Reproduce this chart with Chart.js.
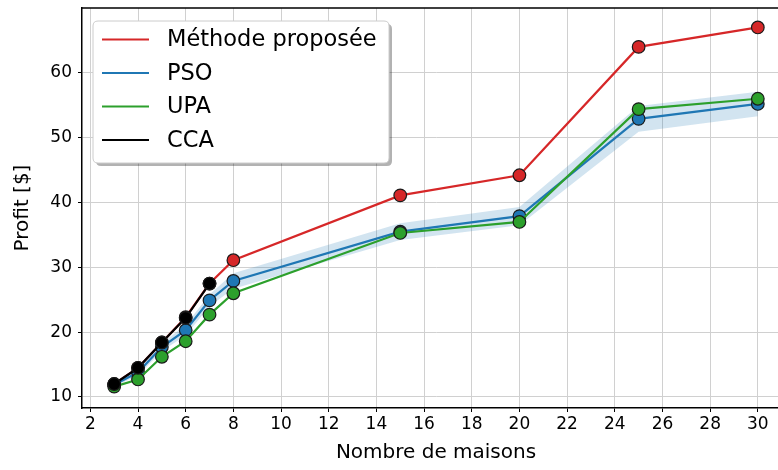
<!DOCTYPE html>
<html>
<head>
<meta charset="utf-8">
<script src="https://cdn.jsdelivr.net/npm/chart.js@4.4.1/dist/chart.umd.min.js"></script>
<style>
  html, body { margin: 0; padding: 0; background: #fff; overflow: hidden; }
  #wrap { width: 800px; height: 470px; position: relative; }
</style>
</head>
<body>
<div id="wrap"><canvas id="profitChart"></canvas></div>
<script>
// donnees
var houses = [3, 4, 5, 6, 7, 8, 15, 20, 25, 30];
var ccaHouses = [3, 4, 5, 6, 7];
var proposed = [12.0, 14.5, 18.4, 22.3, 27.5, 31.1, 41.1, 44.2, 64.0, 67.0];
var pso = [11.9, 13.8, 17.7, 20.3, 24.9, 27.9, 35.5, 37.9, 52.9, 55.2];
var psoStd = [0.3, 0.5, 0.6, 0.8, 0.9, 1.2, 1.3, 1.4, 2.0, 1.9];
var upa = [11.6, 12.7, 16.2, 18.6, 22.7, 26.0, 35.3, 37.0, 54.4, 56.0];
var cca = [12.0, 14.5, 18.4, 22.2, 27.5];
var xTicks = [2, 4, 6, 8, 10, 12, 14, 16, 18, 20, 22, 24, 26, 28, 30];
var yTicks = [10, 20, 30, 40, 50, 60];

var legendItems = [
    { label: 'Méthode proposée', color: '#d62728' },
    { label: 'PSO', color: '#1f77b4' },
    { label: 'UPA', color: '#2ca02c' },
    { label: 'CCA', color: '#000000' }
];

function pts(xs, ys) {
    var out = [];
    for (var i = 0; i < xs.length; i++) {
        out.push({ x: xs[i], y: ys[i] });
    }
    return out;
}

var psoLow = pso.map(function (v, i) { return v - psoStd[i]; });
var psoHigh = pso.map(function (v, i) { return v + psoStd[i]; });

function lineSet(label, xs, ys, color, order) {
    return {
        label: label,
        data: pts(xs, ys),
        borderColor: color,
        backgroundColor: color,
        borderWidth: 2.2,
        pointRadius: 6.3,
        pointHoverRadius: 6.3,
        pointBackgroundColor: color,
        pointBorderColor: '#1a1a1a',
        pointBorderWidth: 1.2,
        fill: false,
        tension: 0,
        order: order
    };
}

// cadre du haut + legende dans le cadre, style matplotlib
var boxLegend = {
    id: 'boxLegend',
    afterDraw: function (chart) {
        var ctx = chart.ctx;
        var a = chart.chartArea;
        ctx.save();
        ctx.beginPath();
        ctx.moveTo(a.left, a.top);
        ctx.lineTo(a.right, a.top);
        ctx.lineTo(a.right, a.bottom);
        ctx.strokeStyle = '#000';
        ctx.lineWidth = 1.5;
        ctx.stroke();

        var x0 = 93, y0 = 21, w = 296, h = 142, r = 5;
        function rr(x, y) {
            ctx.beginPath();
            ctx.moveTo(x + r, y);
            ctx.lineTo(x + w - r, y);
            ctx.quadraticCurveTo(x + w, y, x + w, y + r);
            ctx.lineTo(x + w, y + h - r);
            ctx.quadraticCurveTo(x + w, y + h, x + w - r, y + h);
            ctx.lineTo(x + r, y + h);
            ctx.quadraticCurveTo(x, y + h, x, y + h - r);
            ctx.lineTo(x, y + r);
            ctx.quadraticCurveTo(x, y, x + r, y);
            ctx.closePath();
        }
        rr(x0 + 3, y0 + 3);
        ctx.fillStyle = 'rgba(0,0,0,0.3)';
        ctx.fill();
        rr(x0, y0);
        ctx.fillStyle = '#ffffff';
        ctx.fill();
        ctx.strokeStyle = '#cccccc';
        ctx.lineWidth = 1;
        ctx.stroke();
        ctx.font = '22.5px "DejaVu Sans"';
        ctx.textBaseline = 'middle';
        ctx.textAlign = 'left';
        for (var i = 0; i < legendItems.length; i++) {
            var yy = 39.5 + i * 33.5;
            ctx.beginPath();
            ctx.moveTo(102, yy);
            ctx.lineTo(149, yy);
            ctx.strokeStyle = legendItems[i].color;
            ctx.lineWidth = 2.2;
            ctx.stroke();
            ctx.fillStyle = '#000';
            ctx.fillText(legendItems[i].label, 167, yy + 1);
        }
        ctx.restore();
    }
};

var chartdata = {
    datasets: [
        lineSet('CCA', ccaHouses, cca, '#000000', 0),
        lineSet('UPA', houses, upa, '#2ca02c', 1),
        lineSet('PSO', houses, pso, '#1f77b4', 2),
        {
            label: 'psoHigh',
            data: pts(houses, psoHigh),
            borderWidth: 0,
            pointRadius: 0,
            backgroundColor: 'rgba(31,119,180,0.2)',
            fill: '+1',
            order: 3
        },
        {
            label: 'psoLow',
            data: pts(houses, psoLow),
            borderWidth: 0,
            pointRadius: 0,
            fill: false,
            order: 4
        },
        lineSet('Méthode proposée', houses, proposed, '#d62728', 5)
    ]
};

var tickFont = { family: 'DejaVu Sans', size: 17 };
var titleFont = { family: 'DejaVu Sans', size: 20 };

new Chart(document.getElementById('profitChart'), {
    type: 'line',
    data: chartdata,
    options: {
        responsive: true,
        maintainAspectRatio: false,
        animation: false,
        events: [],
        layout: { padding: { top: 8, right: 10, left: 0, bottom: 0 } },
        plugins: {
            legend: { display: false },
            tooltip: { enabled: false }
        },
        scales: {
            x: {
                type: 'linear',
                min: 1.65,
                max: 31.35,
                afterBuildTicks: function (s) { s.ticks = xTicks.map(function (v) { return { value: v }; }); },
                afterFit: function (s) { s.height = 62; s.paddingLeft = 0; s.paddingRight = 0; },
                ticks: { font: tickFont, color: '#000', padding: 2, maxRotation: 0 },
                grid: { color: '#d0d0d0', lineWidth: 1, tickColor: '#000', tickLength: 4 },
                border: { color: '#000', width: 1.5 },
                title: { display: true, text: 'Nombre de maisons', font: titleFont, color: '#000', padding: { bottom: 5 } }
            },
            y: {
                min: 8.3,
                max: 70.0,
                afterBuildTicks: function (s) { s.ticks = yTicks.map(function (v) { return { value: v }; }); },
                afterFit: function (s) { s.width = 82; s.paddingTop = 0; s.paddingBottom = 0; },
                ticks: { font: tickFont, color: '#000', padding: 6 },
                grid: { color: '#d0d0d0', lineWidth: 1, tickColor: '#000', tickLength: 4 },
                border: { color: '#000', width: 1.5 },
                title: { display: true, text: 'Profit [$]', font: titleFont, color: '#000', padding: { top: 11 } }
            }
        }
    },
    plugins: [boxLegend]
});
</script>
</body>
</html>
